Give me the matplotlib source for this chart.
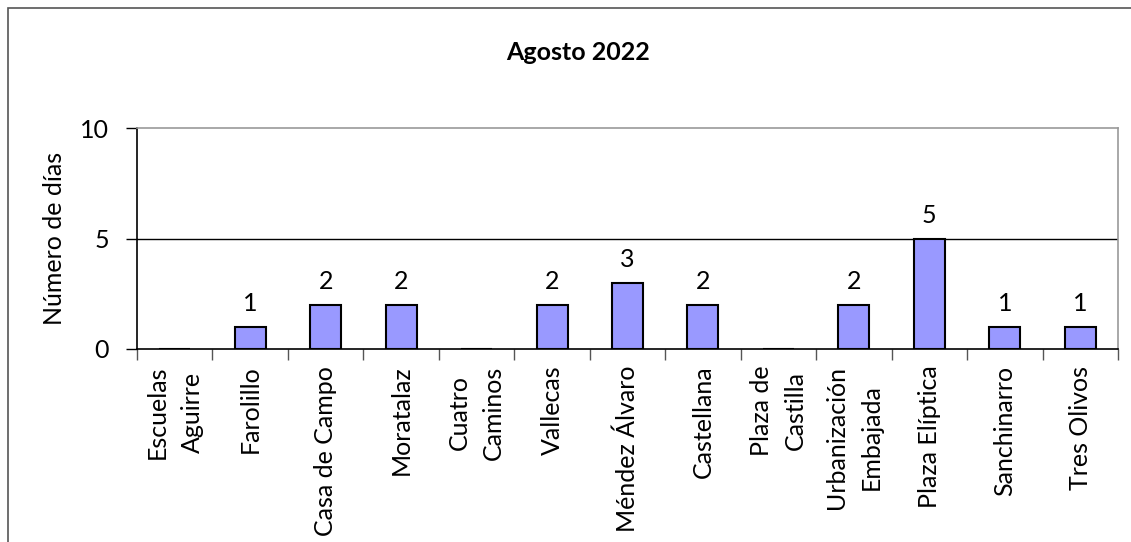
import matplotlib
matplotlib.use("Agg")
import matplotlib.pyplot as plt
import matplotlib.patches as mpatches
import numpy as np

# station names (line breaks as in the original chart)
stations = ["Escuelas\nAguirre", "Farolillo", "Casa de Campo", "Moratalaz",
            "Cuatro\nCaminos", "Vallecas", "Méndez Álvaro", "Castellana",
            "Plaza de\nCastilla", "Urbanización\nEmbajada", "Plaza Elíptica",
            "Sanchinarro", "Tres Olivos"]
days = [0, 1, 2, 2, 0, 2, 3, 2, 0, 2, 5, 1, 1]

title = "Agosto 2022"
ylabel = "Número de días"
yticks = [0, 5, 10]

plt.rcParams['font.family'] = ['Lato', 'DejaVu Sans']
FS = 18

fig = plt.figure(figsize=(11.31, 5.42), dpi=100)
ax = fig.add_axes([137/1131, 1 - 349/542, 981/1131, 221/542])

# outer chart frame (right and bottom edges fall outside the image)
frame = mpatches.Rectangle((8/1131, -0.05), 1.1, 1 - 8/542 + 0.05,
                           transform=fig.transFigure, fill=False,
                           edgecolor='#555555', linewidth=1.2)
fig.patches.append(frame)

x = np.arange(len(stations))
ax.bar(x, days, width=0.41, color='#9999ff', edgecolor='black',
       linewidth=1.5, zorder=3)

for xi, v in zip(x, days):
    if v > 0:
        ax.text(xi, v + 1.05, str(v), ha='center', va='center', fontsize=FS)

ax.set_xlim(-0.5, len(stations) - 0.5)
ax.set_ylim(0, 10)
ax.set_yticks(yticks)
ax.tick_params(axis='y', labelsize=FS, length=8, width=1, direction='out', pad=12)

# x ticks sit between categories, labels at centres
ax.set_xticks(np.arange(len(stations) + 1) - 0.5)
ax.set_xticklabels([])
ax.set_xticks(x, minor=True)
ax.set_xticklabels(stations, minor=True, rotation=90, fontsize=FS,
                   ha='center', va='top', linespacing=1.6)
ax.tick_params(axis='x', which='major', length=8, width=1, color='#555555')
ax.tick_params(axis='x', which='minor', length=0, pad=12)

ax.axhline(5, color='black', linewidth=1, zorder=1)

ax.spines['left'].set_color('black')
ax.spines['bottom'].set_color('black')
ax.spines['top'].set_color('#999999')
ax.spines['right'].set_color('#999999')
for s in ax.spines.values():
    s.set_linewidth(1.2)

ax.set_ylabel(ylabel, fontsize=FS)
ax.yaxis.set_label_coords((55 - 137) / 981, 0.5)
ax.yaxis.label.set_va('center')
fig.text(578/1131, 1 - 53/542, title, ha='center', va='center',
         fontsize=18, fontweight='bold')

fig.savefig("out.png", dpi=100)
